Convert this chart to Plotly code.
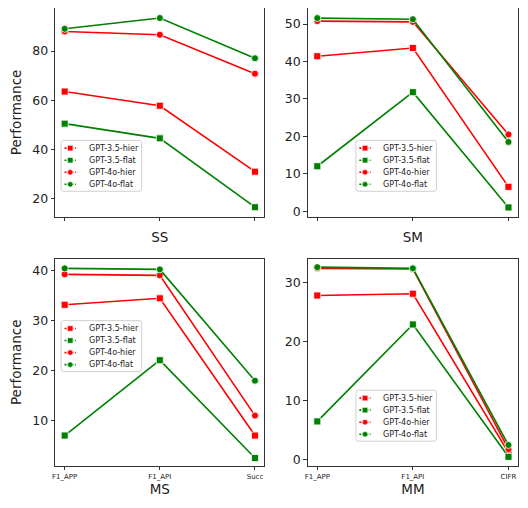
import plotly.graph_objects as go

# the page puts the plot 8px in from the top-left corner and only about
# 512x492 of it is visible, so positions are mapped from page pixels
W, H = 512, 492

# categories per panel (x axis)
cats_left = ['F1_APP', 'F1_API', 'Succ']
cats_right = ['F1_APP', 'F1_API', 'CIFR']

series = ['GPT-3.5-hier', 'GPT-3.5-flat', 'GPT-4o-hier', 'GPT-4o-flat']

# values, one list per series
ss = {'GPT-3.5-hier': [63.5, 57.7, 30.8],
      'GPT-3.5-flat': [50.4, 44.4, 16.3],
      'GPT-4o-hier': [88.0, 86.7, 70.8],
      'GPT-4o-flat': [89.1, 93.5, 77.1]}
sm = {'GPT-3.5-hier': [41.4, 43.6, 6.5],
      'GPT-3.5-flat': [12.0, 31.8, 1.0],
      'GPT-4o-hier': [50.8, 50.6, 20.5],
      'GPT-4o-flat': [51.6, 51.3, 18.5]}
ms = {'GPT-3.5-hier': [33.2, 34.5, 7.0],
      'GPT-3.5-flat': [7.0, 22.1, 2.5],
      'GPT-4o-hier': [39.3, 39.1, 11.0],
      'GPT-4o-flat': [40.5, 40.3, 18.0]}
mm = {'GPT-3.5-hier': [27.8, 28.1, 1.2],
      'GPT-3.5-flat': [6.5, 22.9, 0.5],
      'GPT-4o-hier': [32.4, 32.3, 1.8],
      'GPT-4o-flat': [32.6, 32.4, 2.5]}

colors = {'GPT-3.5-hier': '#ff0000', 'GPT-3.5-flat': '#008000',
          'GPT-4o-hier': '#ff0000', 'GPT-4o-flat': '#008000'}
symbols = {'GPT-3.5-hier': 'square', 'GPT-3.5-flat': 'square',
           'GPT-4o-hier': 'circle', 'GPT-4o-flat': 'circle'}


def px(x):
    return min(1.0, (x - 7) / 521)


def py(y):
    return min(1.0, 1 - (y - 6) / 502)


# (data, categories, x axis, y axis, legend box top-left in page px)
panels = [
    (ss, cats_left, 'x', 'y', (61, 141)),
    (sm, cats_right, 'x2', 'y2', (361, 141)),
    (ms, cats_left, 'x3', 'y3', (61, 325)),
    (mm, cats_right, 'x4', 'y4', (361, 396)),
]

fig = go.Figure()
for data, cats, xa, ya, _ in panels:
    for s in series:
        fig.add_trace(go.Scatter(
            x=cats, y=data[s], xaxis=xa, yaxis=ya, showlegend=False,
            mode='lines+markers', name=s,
            line=dict(color=colors[s], width=1.6),
            marker=dict(symbol=symbols[s], size=7, color=colors[s],
                        line=dict(color='white', width=0.8)),
        ))

# small matplotlib-style legend boxes
shapes = []
annotations = []
for _, _, _, _, (lx, ly) in panels:
    bw, bh, r = 82, 52, 2.5
    path = (f'M {px(lx + r)} {py(ly)} L {px(lx + bw - r)} {py(ly)} '
            f'Q {px(lx + bw)} {py(ly)} {px(lx + bw)} {py(ly + r)} '
            f'L {px(lx + bw)} {py(ly + bh - r)} '
            f'Q {px(lx + bw)} {py(ly + bh)} {px(lx + bw - r)} {py(ly + bh)} '
            f'L {px(lx + r)} {py(ly + bh)} '
            f'Q {px(lx)} {py(ly + bh)} {px(lx)} {py(ly + bh - r)} '
            f'L {px(lx)} {py(ly + r)} Q {px(lx)} {py(ly)} {px(lx + r)} {py(ly)} Z')
    shapes.append(dict(type='path', xref='paper', yref='paper', path=path,
                       fillcolor='rgba(255,255,255,0.85)',
                       line=dict(color='#d0d0d0', width=1), layer='above'))
    for i, s in enumerate(series):
        cy = ly + 8 + i * 12.3
        shapes.append(dict(type='line', xref='paper', yref='paper',
                           x0=px(lx + 3.5), x1=px(lx + 15), y0=py(cy), y1=py(cy),
                           line=dict(color=colors[s], width=1.6, dash='2px,1.5px'),
                           layer='above'))
        mx, mr = lx + 9.3, 2.8
        shapes.append(dict(type='rect' if symbols[s] == 'square' else 'circle',
                           xref='paper', yref='paper',
                           x0=px(mx - mr), x1=px(mx + mr),
                           y0=py(cy - mr), y1=py(cy + mr),
                           fillcolor=colors[s], line=dict(color='white', width=0.6),
                           layer='above'))
        annotations.append(dict(xref='paper', yref='paper', x=px(lx + 26), y=py(cy),
                                text=s, showarrow=False, xanchor='left',
                                yanchor='middle',
                                font=dict(size=8, color='#222222')))


def xaxis(domain, anchor, title, labels, standoff):
    return dict(domain=domain, anchor=anchor, type='category',
                range=[-0.1, 2.1], showticklabels=labels,
                showline=True, linecolor='#333333', linewidth=1, mirror=True,
                ticks='outside', ticklen=3.5, tickcolor='#333333',
                showgrid=False, zeroline=False, automargin=False,
                tickfont=dict(size=7, color='#222222'),
                title=dict(text=title, font=dict(size=13.5, color='#222222'),
                           standoff=standoff))


def yaxis(domain, anchor, rng, tickvals, title):
    return dict(domain=domain, anchor=anchor, range=rng, tickvals=tickvals,
                showline=True, linecolor='#333333', linewidth=1, mirror=True,
                ticks='outside', ticklen=3.5, tickcolor='#333333',
                showgrid=False, zeroline=False, automargin=False,
                tickfont=dict(size=12.5, color='#222222'),
                title=dict(text=title, font=dict(size=13.5, color='#222222'),
                           standoff=15))


xl = [px(55), px(268)]
xr = [px(312), px(526)]
yt = [py(219), py(6)]
yb = [py(473), py(262)]

fig.update_layout(
    width=W, height=H,
    margin=dict(l=0, r=0, t=0, b=0),
    paper_bgcolor='white', plot_bgcolor='white',
    font=dict(family='DejaVu Sans'),
    showlegend=False,
    xaxis=xaxis(xl, 'y', 'SS', False, 12),
    yaxis=yaxis(yt, 'x', [12.4, 97.6], [20, 40, 60, 80], 'Performance'),
    xaxis2=xaxis(xr, 'y2', 'SM', False, 12),
    yaxis2=yaxis(yt, 'x2', [-1.5, 54.3], [0, 10, 20, 30, 40, 50], ''),
    xaxis3=xaxis(xl, 'y3', 'MS', True, 2),
    yaxis3=yaxis(yb, 'x3', [0.96, 42.4], [10, 20, 30, 40], 'Performance'),
    xaxis4=xaxis(xr, 'y4', 'MM', True, 2),
    yaxis4=yaxis(yb, 'x4', [-1.0, 34.0], [0, 10, 20, 30], ''),
    shapes=shapes,
    annotations=annotations,
)

fig.write_html("out.html")
